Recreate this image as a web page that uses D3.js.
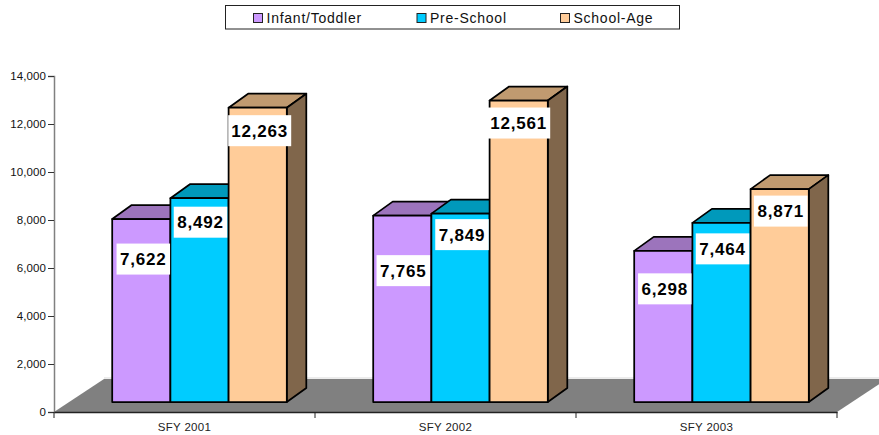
<!DOCTYPE html>
<html><head><meta charset="utf-8">
<script src="https://cdn.jsdelivr.net/npm/d3@7"></script>
<style>html,body{margin:0;padding:0;background:#fff}svg{display:block}text{font-family:"Liberation Sans",Arial,sans-serif}</style>
</head><body><div id="chart"></div>
<script>
const categories = ["SFY 2001","SFY 2002","SFY 2003"];
const seriesNames = ["Infant/Toddler","Pre-School","School-Age"];
const infantToddler = [7622,7765,6298];
const preSchool = [8492,7849,7464];
const schoolAge = [12263,12561,8871];
const yTicks = [0,2000,4000,6000,8000,10000,12000,14000];
const seriesValues = [infantToddler,preSchool,schoolAge];
const frontColors = ["#CC99FF","#00CCFF","#FFCC99"];
const topColors = ["#9C74BC","#0099BB","#C09A70"];
const sideColors = ["#7A5C99","#007A99","#80664B"];
// label centre below the bar top, in pixels, by series then category
const labelDrop = [[40,55,38],[24,21,26],[23,22.5,22]];
const labelShift = [[2,1,1.5],[1,1.5,1],[2,0,1]];

const W=879,H=435;
const svg=d3.select("#chart").append("svg").attr("width",W).attr("height",H);
const x=d3.scaleBand().domain(categories).range([54,837]);
const y=d3.scaleLinear().domain([0,14000]).range([412,76]);
const inner=d3.scaleBand().domain(d3.range(3)).range([-87.3,87.3]);
const off={x:15,y:10}, depth={x:19.5,y:14}, floor={x:50,y:33};
const fmt=d3.format(",");

// floor
svg.append("line").attr("x1",54+floor.x).attr("x2",W).attr("y1",y(0)-floor.y-1).attr("y2",y(0)-floor.y-1).attr("stroke","#d9d9d9");
const pts=[[54,y(0)],[837,y(0)],[837+floor.x,y(0)-floor.y],[54+floor.x,y(0)-floor.y]];
svg.append("polygon").attr("points",pts.join(" ")).attr("fill","#808080");

// y axis
const ya=svg.append("g").attr("transform","translate(54,0)")
  .call(d3.axisLeft(y).tickValues(yTicks).tickSize(6).tickPadding(2).tickFormat(fmt));
ya.selectAll(".domain").attr("stroke","#808080").attr("stroke-width",1.5);
ya.selectAll(".tick line").attr("stroke","#333");
ya.selectAll("text").attr("font-size",11.5).attr("fill","#111").attr("letter-spacing",0.1).style("font-family","Liberation Sans");

// x axis
const xa=svg.append("g").attr("transform",`translate(0,${y(0)})`)
  .call(d3.axisBottom(x).tickSize(0).tickPadding(10.5));
xa.selectAll(".domain").attr("stroke","#222").attr("stroke-width",1.5);
xa.selectAll("text").attr("font-size",11.5).attr("fill","#222").attr("letter-spacing",0.3).style("font-family","Liberation Sans");
xa.selectAll(".sep").data(d3.range(4)).join("line").attr("class","sep")
  .attr("x1",i=>54+i*x.step()).attr("x2",i=>54+i*x.step()).attr("y1",0).attr("y2",6).attr("stroke","#222");

// bars
const base=y(0)-off.y;
categories.forEach((c,ci)=>{
  const cx=x(c)+x.bandwidth()/2+off.x;
  seriesValues.forEach((vals,si)=>{
    const x0=cx+inner(si), w=inner.bandwidth(), t=y(vals[ci])-off.y;
    const g=svg.append("g").attr("stroke","#000").attr("stroke-width",1.75).attr("stroke-linejoin","round");
    g.append("polygon").attr("fill",topColors[si])
      .attr("points",[[x0,t],[x0+depth.x,t-depth.y],[x0+w+depth.x,t-depth.y],[x0+w,t]].join(" "));
    g.append("polygon").attr("fill",sideColors[si])
      .attr("points",[[x0+w,t],[x0+w+depth.x,t-depth.y],[x0+w+depth.x,base-depth.y],[x0+w,base]].join(" "));
    g.append("rect").attr("x",x0).attr("y",t).attr("width",w).attr("height",base-t).attr("fill",frontColors[si]);
  });
});
// labels
categories.forEach((c,ci)=>{
  const cx=x(c)+x.bandwidth()/2+off.x;
  seriesValues.forEach((vals,si)=>{
    const lx=cx+inner(si)+inner.bandwidth()/2+labelShift[si][ci];
    const ly=y(vals[ci])-off.y+labelDrop[si][ci];
    const s=fmt(vals[ci]);
    const rw=s.length>5?63:53.5;
    svg.append("rect").attr("x",lx-rw/2).attr("y",ly-15.5).attr("width",rw).attr("height",31).attr("fill","#fff");
    svg.append("text").attr("x",lx).attr("y",ly+6).attr("text-anchor","middle")
      .attr("font-size",17).attr("font-weight","bold").attr("letter-spacing",0.8).attr("fill","#000").text(s);
  });
});

// legend
svg.append("rect").attr("x",225.5).attr("y",5.5).attr("width",454).attr("height",23.5).attr("fill","#fff").attr("stroke","#222");
const legendX=d3.scaleOrdinal().domain(seriesNames).range([253.5,417,560.5]);
seriesNames.forEach((n,i)=>{
  svg.append("rect").attr("x",legendX(n)).attr("y",13.5).attr("width",9).attr("height",9).attr("fill",frontColors[i]).attr("stroke","#222");
  svg.append("text").attr("x",legendX(n)+13).attr("y",22.5).attr("font-size",14).attr("fill","#111").attr("letter-spacing",0.75).text(n);
});
</script></body></html>
